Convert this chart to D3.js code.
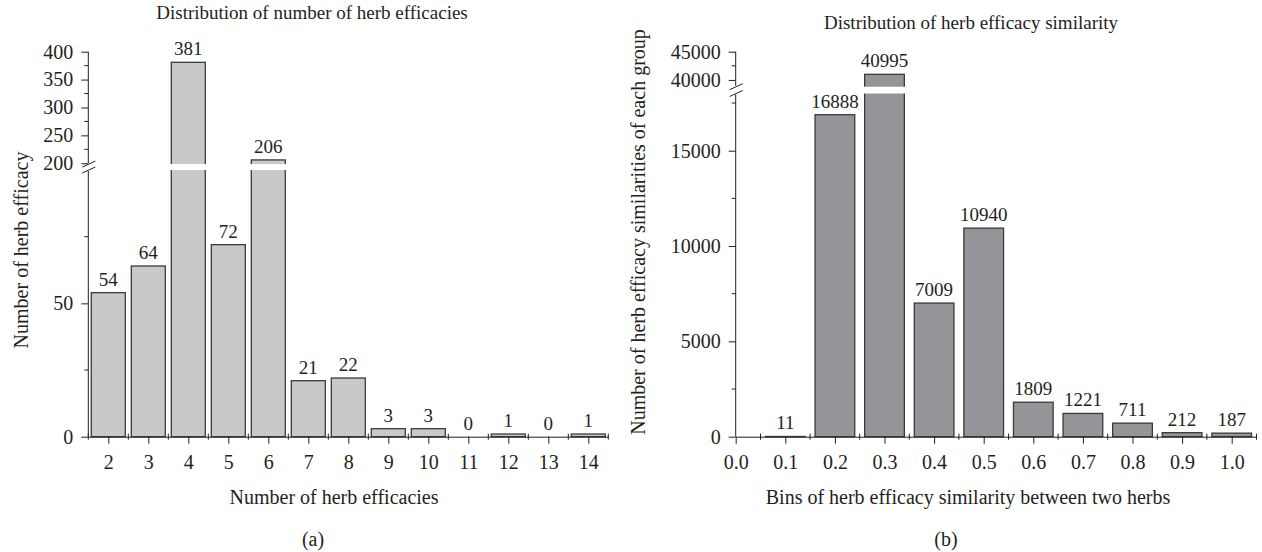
<!DOCTYPE html>
<html>
<head>
<meta charset="utf-8">
<script src="https://cdn.jsdelivr.net/npm/d3@7"></script>
<style>
    body { margin: 0; background: #fff; }
    svg text { font-family: "Liberation Serif", "Times New Roman", serif; fill: #231f20; }
    .axis path, .axis line { stroke: #231f20; }
</style>
</head>
<body>
<svg id="chart" width="1262" height="552"></svg>
<script>
// Panel (a): number of efficacies per herb
const effCategories = [2, 3, 4, 5, 6, 7, 8, 9, 10, 11, 12, 13, 14];
const effValues = [54, 64, 381, 72, 206, 21, 22, 3, 3, 0, 1, 0, 1];
const effLowTicks = [0, 50];
const effLowMinor = [25, 75];
const effHighTicks = [200, 250, 300, 350, 400];
const effHighMinor = [225, 275, 325, 375];

// Panel (b): similarity bins
const simBins = [0.1, 0.2, 0.3, 0.4, 0.5, 0.6, 0.7, 0.8, 0.9, 1.0];
const simValues = [11, 16888, 40995, 7009, 10940, 1809, 1221, 711, 212, 187];
const simTicks = [0.0, 0.1, 0.2, 0.3, 0.4, 0.5, 0.6, 0.7, 0.8, 0.9, 1.0];
const simLowTicks = [0, 5000, 10000, 15000];
const simLowMinor = [2500, 7500, 12500, 17500];
const simHighTicks = [40000, 45000];
const simHighMinor = [42500];

const svg = d3.select("#chart");
const TICK_FONT = "20px";
const LABEL_FONT = "20px";
const TITLE_FONT = "19px";
const VALUE_FONT = "19px";

function drawPanel(cfg) {
    const g = svg.append("g");
    const x = d3.scaleLinear().domain(cfg.xDomain).range(cfg.xRange);
    const yLow = d3.scaleLinear().domain(cfg.lowDomain).range(cfg.lowRange);
    const yHigh = d3.scaleLinear().domain(cfg.highDomain).range(cfg.highRange);
    const axX = cfg.xRange[0];
    const baseY = yLow(0);
    const yOf = v => v > cfg.lowDomain[1] ? yHigh(v) : yLow(v);

    // bars
    g.selectAll("rect.bar")
        .data(cfg.values)
        .enter()
        .append("rect")
            .attr("class", "bar")
            .attr("x", (d, i) => x(cfg.cats[i] - cfg.barW / 2))
            .attr("width", x(cfg.barW) - x(0))
            .attr("y", d => yOf(d))
            .attr("height", d => baseY - yOf(d))
            .attr("fill", cfg.fill)
            .attr("stroke", "#3a3a3a")
            .attr("stroke-width", 1.3);

    // white band where the axis is broken
    const bandTop = yHigh(cfg.highDomain[0]);
    const bandBottom = yLow(cfg.lowDomain[1]);
    g.append("rect")
        .attr("x", axX + 1)
        .attr("y", bandTop)
        .attr("width", cfg.xRange[1] - axX)
        .attr("height", bandBottom - bandTop)
        .attr("fill", "#fff");

    // value labels
    g.selectAll("text.val")
        .data(cfg.values)
        .enter()
        .append("text")
            .attr("class", "val")
            .attr("x", (d, i) => x(cfg.cats[i]))
            .attr("y", d => yOf(d) - 7)
            .attr("text-anchor", "middle")
            .style("font-size", VALUE_FONT)
            .text(d => d);

    // y axis, lower part
    const lowAxis = g.append("g")
        .attr("class", "axis")
        .attr("transform", `translate(${axX},0)`)
        .call(d3.axisLeft(yLow).tickValues(cfg.lowTicks).tickFormat(d3.format("d"))
            .tickSize(7).tickPadding(8).tickSizeOuter(0));
    lowAxis.select(".domain").remove();
    lowAxis.selectAll(".tick text").style("font-size", TICK_FONT).style("font-family", null);
    lowAxis.selectAll(".minor")
        .data(cfg.lowMinor)
        .enter()
        .append("line")
            .attr("class", "minor")
            .attr("x1", -4).attr("x2", 0)
            .attr("y1", d => yLow(d)).attr("y2", d => yLow(d))
            .attr("stroke", "#231f20");
    lowAxis.append("line")
        .attr("y1", yLow(0)).attr("y2", bandBottom + 1)
        .attr("stroke", "#231f20");

    // y axis, upper part
    const highAxis = g.append("g")
        .attr("class", "axis")
        .attr("transform", `translate(${axX},0)`)
        .call(d3.axisLeft(yHigh).tickValues(cfg.highTicks).tickFormat(d3.format("d"))
            .tickSize(7).tickPadding(8).tickSizeOuter(0));
    highAxis.select(".domain").remove();
    highAxis.selectAll(".tick text").style("font-size", TICK_FONT).style("font-family", null);
    highAxis.selectAll(".minor")
        .data(cfg.highMinor)
        .enter()
        .append("line")
            .attr("class", "minor")
            .attr("x1", -4).attr("x2", 0)
            .attr("y1", d => yHigh(d)).attr("y2", d => yHigh(d))
            .attr("stroke", "#231f20");
    highAxis.append("line")
        .attr("y1", yHigh(cfg.highDomain[1])).attr("y2", bandTop - 1)
        .attr("stroke", "#231f20");

    // break marks
    [bandTop, bandBottom].forEach(yy => {
        g.append("line")
            .attr("x1", axX - 6).attr("x2", axX + 7)
            .attr("y1", yy + 3).attr("y2", yy - 3)
            .attr("stroke", "#231f20")
            .attr("stroke-width", 1);
    });

    // x axis
    const xAxis = g.append("g")
        .attr("class", "axis")
        .attr("transform", `translate(0,${baseY})`)
        .call(d3.axisBottom(x).tickValues(cfg.xTicks).tickFormat(cfg.xFormat)
            .tickSize(7).tickPadding(11).tickSizeOuter(0));
    xAxis.selectAll(".tick text").style("font-size", TICK_FONT).style("font-family", null);
    xAxis.selectAll(".minor")
        .data(cfg.xMinor)
        .enter()
        .append("line")
            .attr("class", "minor")
            .attr("x1", d => x(d)).attr("x2", d => x(d))
            .attr("y1", -3).attr("y2", 3)
            .attr("stroke", "#231f20");

    // texts
    g.append("text")
        .attr("x", cfg.titleX).attr("y", cfg.titleY)
        .attr("text-anchor", "middle")
        .style("font-size", TITLE_FONT)
        .text(cfg.title);
    g.append("text")
        .attr("x", cfg.xLabelX).attr("y", 504)
        .attr("text-anchor", "middle")
        .style("font-size", LABEL_FONT)
        .text(cfg.xLabel);
    g.append("text")
        .attr("transform", `translate(${cfg.yLabelX},${cfg.yLabelY}) rotate(-90)`)
        .attr("text-anchor", "middle")
        .style("font-size", LABEL_FONT)
        .text(cfg.yLabel);
    g.append("text")
        .attr("x", cfg.tagX).attr("y", 546)
        .attr("text-anchor", "middle")
        .style("font-size", LABEL_FONT)
        .text(cfg.tag);
}

drawPanel({
    cats: effCategories,
    values: effValues,
    xDomain: [1.5, 14.5],
    xRange: [88.3, 608.3],
    barW: 0.85,
    xTicks: effCategories,
    xMinor: d3.range(effCategories.length + 1).map(i => 1.5 + i),
    xFormat: d3.format("d"),
    lowDomain: [0, 100],
    lowRange: [436.7, 170],
    highDomain: [198.5, 400],
    highRange: [164.1, 51.7],
    lowTicks: effLowTicks,
    lowMinor: effLowMinor,
    highTicks: effHighTicks,
    highMinor: effHighMinor,
    fill: "#c8c9cb",
    title: "Distribution of number of herb efficacies",
    titleX: 312, titleY: 19,
    xLabel: "Number of herb efficacies",
    xLabelX: 334,
    yLabel: "Number of herb efficacy",
    yLabelX: 28, yLabelY: 250,
    tag: "(a)", tagX: 313
});

drawPanel({
    cats: simBins,
    values: simValues,
    xDomain: [0, 1.05],
    xRange: [735.7, 1256.5],
    barW: 0.08,
    xTicks: simTicks,
    xMinor: d3.range(simTicks.length).map(i => 0.05 + i / 10),
    xFormat: d3.format(".1f"),
    lowDomain: [0, 18000],
    lowRange: [436.7, 93.5],
    highDomain: [38800, 45000],
    highRange: [86.7, 51.7],
    lowTicks: simLowTicks,
    lowMinor: simLowMinor,
    highTicks: simHighTicks,
    highMinor: simHighMinor,
    fill: "#939598",
    title: "Distribution of herb efficacy similarity",
    titleX: 971, titleY: 29,
    xLabel: "Bins of herb efficacy similarity between two herbs",
    xLabelX: 968,
    yLabel: "Number of herb efficacy similarities of each group",
    yLabelX: 645, yLabelY: 232,
    tag: "(b)", tagX: 946
});
</script>
</body>
</html>
